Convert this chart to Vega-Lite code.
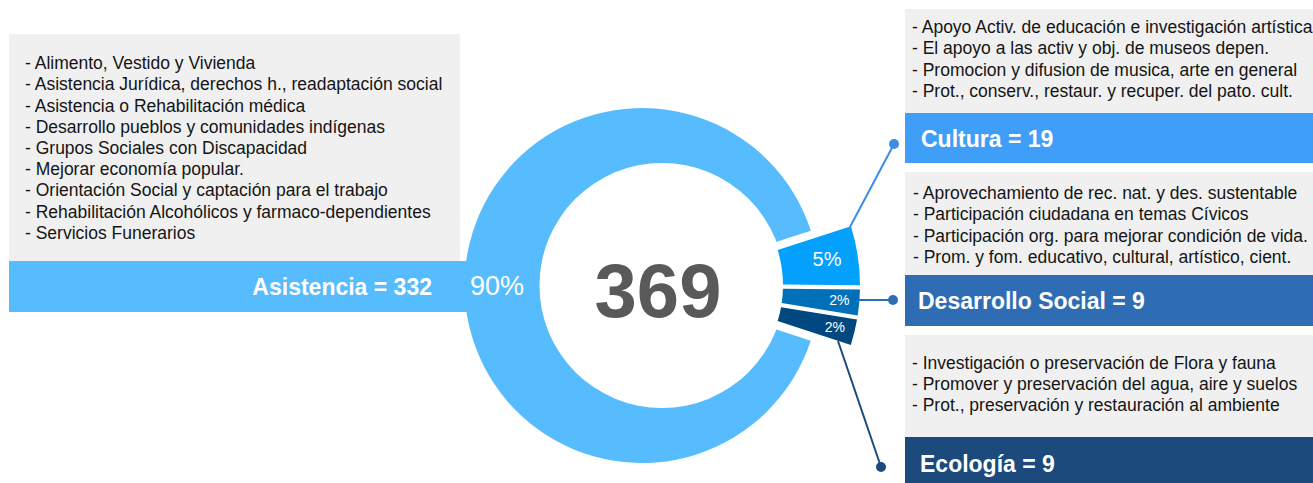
{
  "$schema": "https://vega.github.io/schema/vega-lite/v6.json",
  "width": 1313,
  "height": 483,
  "autosize": {"type": "none"},
  "padding": 0,
  "background": "white",
  "config": {"view": {"stroke": null}, "text": {"font": "Liberation Sans"}},
  "datasets": {
    "segmentos": [
      {"categoria": "Cultura", "n": 19, "pct": "5%", "orden": 1, "rotulo": "Cultura = 19",
       "descripcion": ["- Apoyo Activ. de educación e investigación artística", "- El apoyo a las activ y obj. de museos depen.", "- Promocion y difusion de musica, arte en general", "- Prot., conserv., restaur. y recuper. del pato. cult."]},
      {"categoria": "Desarrollo Social", "n": 9, "pct": "2%", "orden": 2, "rotulo": "Desarrollo Social = 9",
       "descripcion": ["- Aprovechamiento de rec. nat. y des. sustentable", "- Participación ciudadana en temas Cívicos", "- Participación org. para mejorar condición de vida.", "- Prom. y fom. educativo, cultural, artístico, cient."]},
      {"categoria": "Ecología", "n": 9, "pct": "2%", "orden": 3, "rotulo": "Ecología = 9",
       "descripcion": ["- Investigación o preservación de Flora y fauna", "- Promover y preservación del agua, aire y suelos", "- Prot., preservación y restauración al ambiente"]},
      {"categoria": "Asistencia", "n": 332, "pct": "90%", "orden": 4, "rotulo": "Asistencia = 332",
       "descripcion": ["- Alimento, Vestido y Vivienda", "- Asistencia Jurídica, derechos h., readaptación social", "- Asistencia o Rehabilitación médica", "- Desarrollo pueblos y comunidades indígenas", "- Grupos Sociales con Discapacidad", "- Mejorar economía popular.", "- Orientación Social y captación para el trabajo", "- Rehabilitación Alcohólicos y farmaco-dependientes", "- Servicios Funerarios"]}
    ]
  },
  "layer": [
    {
      "data": {"name": "segmentos"},
      "transform": [{"filter": "datum.categoria === 'Asistencia'"}],
      "mark": {"type": "rect", "fill": "#F0F0F0"},
      "encoding": {
        "x": {"datum": 9, "type": "quantitative", "scale": {"domain": [0, 1313], "nice": false, "zero": false}, "axis": null},
        "x2": {"datum": 460},
        "y": {"datum": 34, "type": "quantitative", "scale": {"domain": [0, 483], "nice": false, "zero": false, "reverse": true}, "axis": null},
        "y2": {"datum": 261}
      }
    },
    {
      "data": {"name": "segmentos"},
      "transform": [{"filter": "datum.categoria === 'Asistencia'"}],
      "mark": {"type": "rect", "fill": "#56BCFE"},
      "encoding": {
        "x": {"datum": 9, "type": "quantitative", "scale": {"domain": [0, 1313], "nice": false, "zero": false}, "axis": null},
        "x2": {"datum": 520},
        "y": {"datum": 261, "type": "quantitative", "scale": {"domain": [0, 483], "nice": false, "zero": false, "reverse": true}, "axis": null},
        "y2": {"datum": 312}
      }
    },
    {
      "data": {"name": "segmentos"},
      "transform": [{"filter": "datum.categoria === 'Cultura'"}],
      "mark": {"type": "rect", "fill": "#F0F0F0"},
      "encoding": {
        "x": {"datum": 905, "type": "quantitative", "scale": {"domain": [0, 1313], "nice": false, "zero": false}, "axis": null},
        "x2": {"datum": 1313},
        "y": {"datum": 9, "type": "quantitative", "scale": {"domain": [0, 483], "nice": false, "zero": false, "reverse": true}, "axis": null},
        "y2": {"datum": 113}
      }
    },
    {
      "data": {"name": "segmentos"},
      "transform": [{"filter": "datum.categoria === 'Cultura'"}],
      "mark": {"type": "rect", "fill": "#3F9FF8"},
      "encoding": {
        "x": {"datum": 905, "type": "quantitative", "scale": {"domain": [0, 1313], "nice": false, "zero": false}, "axis": null},
        "x2": {"datum": 1313},
        "y": {"datum": 113, "type": "quantitative", "scale": {"domain": [0, 483], "nice": false, "zero": false, "reverse": true}, "axis": null},
        "y2": {"datum": 163}
      }
    },
    {
      "data": {"name": "segmentos"},
      "transform": [{"filter": "datum.categoria === 'Desarrollo Social'"}],
      "mark": {"type": "rect", "fill": "#F0F0F0"},
      "encoding": {
        "x": {"datum": 905, "type": "quantitative", "scale": {"domain": [0, 1313], "nice": false, "zero": false}, "axis": null},
        "x2": {"datum": 1313},
        "y": {"datum": 172, "type": "quantitative", "scale": {"domain": [0, 483], "nice": false, "zero": false, "reverse": true}, "axis": null},
        "y2": {"datum": 275}
      }
    },
    {
      "data": {"name": "segmentos"},
      "transform": [{"filter": "datum.categoria === 'Desarrollo Social'"}],
      "mark": {"type": "rect", "fill": "#2E6DB4"},
      "encoding": {
        "x": {"datum": 905, "type": "quantitative", "scale": {"domain": [0, 1313], "nice": false, "zero": false}, "axis": null},
        "x2": {"datum": 1313},
        "y": {"datum": 275, "type": "quantitative", "scale": {"domain": [0, 483], "nice": false, "zero": false, "reverse": true}, "axis": null},
        "y2": {"datum": 326}
      }
    },
    {
      "data": {"name": "segmentos"},
      "transform": [{"filter": "datum.categoria === 'Ecología'"}],
      "mark": {"type": "rect", "fill": "#F0F0F0"},
      "encoding": {
        "x": {"datum": 905, "type": "quantitative", "scale": {"domain": [0, 1313], "nice": false, "zero": false}, "axis": null},
        "x2": {"datum": 1313},
        "y": {"datum": 335, "type": "quantitative", "scale": {"domain": [0, 483], "nice": false, "zero": false, "reverse": true}, "axis": null},
        "y2": {"datum": 437}
      }
    },
    {
      "data": {"name": "segmentos"},
      "transform": [{"filter": "datum.categoria === 'Ecología'"}],
      "mark": {"type": "rect", "fill": "#1C4A7D"},
      "encoding": {
        "x": {"datum": 905, "type": "quantitative", "scale": {"domain": [0, 1313], "nice": false, "zero": false}, "axis": null},
        "x2": {"datum": 1313},
        "y": {"datum": 437, "type": "quantitative", "scale": {"domain": [0, 483], "nice": false, "zero": false, "reverse": true}, "axis": null},
        "y2": {"datum": 483}
      }
    },
    {
      "data": {"name": "segmentos"},
      "mark": {"type": "arc", "outerRadius": 177.5, "innerRadius": 0},
      "encoding": {
        "x": {"datum": 642, "type": "quantitative", "scale": {"domain": [0, 1313], "nice": false, "zero": false}, "axis": null},
        "y": {"datum": 285.5, "type": "quantitative", "scale": {"domain": [0, 483], "nice": false, "zero": false, "reverse": true}, "axis": null},
        "theta": {"field": "n", "type": "quantitative", "stack": true, "scale": {"range": [1.2566, 7.5398]}},
        "order": {"field": "orden", "type": "quantitative"},
        "color": {"field": "categoria", "type": "nominal", "scale": {"domain": ["Asistencia", "Cultura", "Desarrollo Social", "Ecología"], "range": ["#56BCFE", "#04A0FE", "#0071B9", "#00487F"]}, "legend": null},
        "opacity": {"condition": {"test": "datum.categoria === 'Asistencia'", "value": 1}, "value": 0}
      }
    },
    {
      "data": {"name": "segmentos"},
      "transform": [{"aggregate": [{"op": "sum", "field": "n", "as": "total"}]}],
      "mark": {"type": "arc", "theta": 0, "theta2": 6.2832, "outerRadius": 122.5, "innerRadius": 0, "fill": "white"},
      "encoding": {
        "x": {"datum": 662, "type": "quantitative", "scale": {"domain": [0, 1313], "nice": false, "zero": false}, "axis": null},
        "y": {"datum": 285.5, "type": "quantitative", "scale": {"domain": [0, 483], "nice": false, "zero": false, "reverse": true}, "axis": null}
      }
    },
    {
      "data": {"name": "segmentos"},
      "mark": {"type": "arc", "outerRadius": 198, "innerRadius": 121, "padAngle": 0.018},
      "encoding": {
        "x": {"datum": 662, "type": "quantitative", "scale": {"domain": [0, 1313], "nice": false, "zero": false}, "axis": null},
        "y": {"datum": 285.5, "type": "quantitative", "scale": {"domain": [0, 483], "nice": false, "zero": false, "reverse": true}, "axis": null},
        "theta": {"field": "n", "type": "quantitative", "stack": true, "scale": {"range": [1.2566, 7.5398]}},
        "order": {"field": "orden", "type": "quantitative"},
        "color": {"field": "categoria", "type": "nominal", "scale": {"domain": ["Asistencia", "Cultura", "Desarrollo Social", "Ecología"], "range": ["#56BCFE", "#04A0FE", "#0071B9", "#00487F"]}, "legend": null},
        "opacity": {"condition": {"test": "datum.categoria === 'Asistencia'", "value": 0}, "value": 1}
      }
    },
    {
      "data": {"name": "segmentos"},
      "mark": {"type": "rule", "stroke": "#3B8DE6", "strokeWidth": 2},
      "transform": [{"filter": "datum.categoria === 'Cultura'"}],
      "encoding": {
        "x": {"datum": 850, "type": "quantitative", "scale": {"domain": [0, 1313], "nice": false, "zero": false}, "axis": null},
        "x2": {"datum": 894},
        "y": {"datum": 227, "type": "quantitative", "scale": {"domain": [0, 483], "nice": false, "zero": false, "reverse": true}, "axis": null},
        "y2": {"datum": 144}
      }
    },
    {
      "data": {"name": "segmentos"},
      "mark": {"type": "rule", "stroke": "#2E6DB4", "strokeWidth": 2},
      "transform": [{"filter": "datum.categoria === 'Desarrollo Social'"}],
      "encoding": {
        "x": {"datum": 859, "type": "quantitative", "scale": {"domain": [0, 1313], "nice": false, "zero": false}, "axis": null},
        "x2": {"datum": 893},
        "y": {"datum": 300, "type": "quantitative", "scale": {"domain": [0, 483], "nice": false, "zero": false, "reverse": true}, "axis": null},
        "y2": {"datum": 300}
      }
    },
    {
      "data": {"name": "segmentos"},
      "mark": {"type": "rule", "stroke": "#1D4A7C", "strokeWidth": 2},
      "transform": [{"filter": "datum.categoria === 'Ecología'"}],
      "encoding": {
        "x": {"datum": 838, "type": "quantitative", "scale": {"domain": [0, 1313], "nice": false, "zero": false}, "axis": null},
        "x2": {"datum": 881},
        "y": {"datum": 341, "type": "quantitative", "scale": {"domain": [0, 483], "nice": false, "zero": false, "reverse": true}, "axis": null},
        "y2": {"datum": 467}
      }
    },
    {
      "data": {"name": "segmentos"},
      "mark": {"type": "point", "filled": true, "size": 100, "fill": "#3B8DE6", "opacity": 1, "strokeWidth": 0},
      "transform": [{"filter": "datum.categoria === 'Cultura'"}],
      "encoding": {
        "x": {"datum": 894, "type": "quantitative", "scale": {"domain": [0, 1313], "nice": false, "zero": false}, "axis": null},
        "y": {"datum": 144, "type": "quantitative", "scale": {"domain": [0, 483], "nice": false, "zero": false, "reverse": true}, "axis": null}
      }
    },
    {
      "data": {"name": "segmentos"},
      "mark": {"type": "point", "filled": true, "size": 100, "fill": "#2E6DB4", "opacity": 1, "strokeWidth": 0},
      "transform": [{"filter": "datum.categoria === 'Desarrollo Social'"}],
      "encoding": {
        "x": {"datum": 893, "type": "quantitative", "scale": {"domain": [0, 1313], "nice": false, "zero": false}, "axis": null},
        "y": {"datum": 300, "type": "quantitative", "scale": {"domain": [0, 483], "nice": false, "zero": false, "reverse": true}, "axis": null}
      }
    },
    {
      "data": {"name": "segmentos"},
      "mark": {"type": "point", "filled": true, "size": 100, "fill": "#1D4A7C", "opacity": 1, "strokeWidth": 0},
      "transform": [{"filter": "datum.categoria === 'Ecología'"}],
      "encoding": {
        "x": {"datum": 881, "type": "quantitative", "scale": {"domain": [0, 1313], "nice": false, "zero": false}, "axis": null},
        "y": {"datum": 467, "type": "quantitative", "scale": {"domain": [0, 483], "nice": false, "zero": false, "reverse": true}, "axis": null}
      }
    },
    {
      "data": {"name": "segmentos"},
      "mark": {"type": "text", "radius": 145, "fontSize": 27, "fill": "white", "align": "center", "baseline": "middle", "dy": 2},
      "encoding": {
        "x": {"datum": 642, "type": "quantitative", "scale": {"domain": [0, 1313], "nice": false, "zero": false}, "axis": null},
        "y": {"datum": 285.5, "type": "quantitative", "scale": {"domain": [0, 483], "nice": false, "zero": false, "reverse": true}, "axis": null},
        "theta": {"field": "n", "type": "quantitative", "stack": true, "scale": {"range": [1.2566, 7.5398]}},
        "order": {"field": "orden", "type": "quantitative"},
        "detail": {"field": "categoria", "type": "nominal"},
        "text": {"field": "pct", "type": "nominal"},
        "opacity": {"condition": {"test": "datum.categoria === 'Asistencia'", "value": 1}, "value": 0}
      }
    },
    {
      "data": {"name": "segmentos"},
      "mark": {"type": "text", "radius": 167, "fontSize": 20, "fill": "white", "align": "center", "baseline": "middle"},
      "encoding": {
        "x": {"datum": 662, "type": "quantitative", "scale": {"domain": [0, 1313], "nice": false, "zero": false}, "axis": null},
        "y": {"datum": 285.5, "type": "quantitative", "scale": {"domain": [0, 483], "nice": false, "zero": false, "reverse": true}, "axis": null},
        "theta": {"field": "n", "type": "quantitative", "stack": true, "scale": {"range": [1.2566, 7.5398]}},
        "order": {"field": "orden", "type": "quantitative"},
        "detail": {"field": "categoria", "type": "nominal"},
        "text": {"field": "pct", "type": "nominal"},
        "opacity": {"condition": {"test": "datum.categoria === 'Cultura'", "value": 1}, "value": 0}
      }
    },
    {
      "data": {"name": "segmentos"},
      "mark": {"type": "text", "radius": 178, "fontSize": 14, "fill": "white", "align": "center", "baseline": "middle"},
      "encoding": {
        "x": {"datum": 662, "type": "quantitative", "scale": {"domain": [0, 1313], "nice": false, "zero": false}, "axis": null},
        "y": {"datum": 285.5, "type": "quantitative", "scale": {"domain": [0, 483], "nice": false, "zero": false, "reverse": true}, "axis": null},
        "theta": {"field": "n", "type": "quantitative", "stack": true, "scale": {"range": [1.2566, 7.5398]}},
        "order": {"field": "orden", "type": "quantitative"},
        "detail": {"field": "categoria", "type": "nominal"},
        "text": {"field": "pct", "type": "nominal"},
        "opacity": {"condition": {"test": "datum.orden === 2 || datum.orden === 3", "value": 1}, "value": 0}
      }
    },
    {
      "data": {"name": "segmentos"},
      "mark": {"type": "text", "fontSize": 76, "fontWeight": "bold", "fill": "#595959", "align": "center", "baseline": "alphabetic"},
      "encoding": {
        "x": {"datum": 658, "type": "quantitative", "scale": {"domain": [0, 1313], "nice": false, "zero": false}, "axis": null},
        "y": {"datum": 317, "type": "quantitative", "scale": {"domain": [0, 483], "nice": false, "zero": false, "reverse": true}, "axis": null},
        "text": {"aggregate": "sum", "field": "n", "type": "quantitative"}
      }
    },
    {
      "data": {"name": "segmentos"},
      "transform": [{"filter": "datum.categoria === 'Asistencia'"}],
      "mark": {"type": "text", "fontSize": 17.5, "lineHeight": 21.2, "fill": "#141414", "align": "left", "baseline": "alphabetic"},
      "encoding": {
        "x": {"datum": 25, "type": "quantitative", "scale": {"domain": [0, 1313], "nice": false, "zero": false}, "axis": null},
        "y": {"datum": 69.3, "type": "quantitative", "scale": {"domain": [0, 483], "nice": false, "zero": false, "reverse": true}, "axis": null},
        "text": {"field": "descripcion", "type": "nominal"}
      }
    },
    {
      "data": {"name": "segmentos"},
      "transform": [{"filter": "datum.categoria === 'Cultura'"}],
      "mark": {"type": "text", "fontSize": 17.5, "lineHeight": 21.2, "fill": "#141414", "align": "left", "baseline": "alphabetic"},
      "encoding": {
        "x": {"datum": 912, "type": "quantitative", "scale": {"domain": [0, 1313], "nice": false, "zero": false}, "axis": null},
        "y": {"datum": 33.3, "type": "quantitative", "scale": {"domain": [0, 483], "nice": false, "zero": false, "reverse": true}, "axis": null},
        "text": {"field": "descripcion", "type": "nominal"}
      }
    },
    {
      "data": {"name": "segmentos"},
      "transform": [{"filter": "datum.categoria === 'Desarrollo Social'"}],
      "mark": {"type": "text", "fontSize": 17.5, "lineHeight": 21.2, "fill": "#141414", "align": "left", "baseline": "alphabetic"},
      "encoding": {
        "x": {"datum": 913, "type": "quantitative", "scale": {"domain": [0, 1313], "nice": false, "zero": false}, "axis": null},
        "y": {"datum": 199.3, "type": "quantitative", "scale": {"domain": [0, 483], "nice": false, "zero": false, "reverse": true}, "axis": null},
        "text": {"field": "descripcion", "type": "nominal"}
      }
    },
    {
      "data": {"name": "segmentos"},
      "transform": [{"filter": "datum.categoria === 'Ecología'"}],
      "mark": {"type": "text", "fontSize": 17.5, "lineHeight": 21.2, "fill": "#141414", "align": "left", "baseline": "alphabetic"},
      "encoding": {
        "x": {"datum": 912, "type": "quantitative", "scale": {"domain": [0, 1313], "nice": false, "zero": false}, "axis": null},
        "y": {"datum": 369, "type": "quantitative", "scale": {"domain": [0, 483], "nice": false, "zero": false, "reverse": true}, "axis": null},
        "text": {"field": "descripcion", "type": "nominal"}
      }
    },
    {
      "data": {"name": "segmentos"},
      "transform": [{"filter": "datum.categoria === 'Asistencia'"}],
      "mark": {"type": "text", "fontSize": 23, "fontWeight": "bold", "fill": "white", "align": "right", "baseline": "alphabetic"},
      "encoding": {
        "x": {"datum": 432, "type": "quantitative", "scale": {"domain": [0, 1313], "nice": false, "zero": false}, "axis": null},
        "y": {"datum": 295, "type": "quantitative", "scale": {"domain": [0, 483], "nice": false, "zero": false, "reverse": true}, "axis": null},
        "text": {"field": "rotulo", "type": "nominal"}
      }
    },
    {
      "data": {"name": "segmentos"},
      "transform": [{"filter": "datum.categoria === 'Cultura'"}],
      "mark": {"type": "text", "fontSize": 23, "fontWeight": "bold", "fill": "white", "align": "left", "baseline": "alphabetic"},
      "encoding": {
        "x": {"datum": 921, "type": "quantitative", "scale": {"domain": [0, 1313], "nice": false, "zero": false}, "axis": null},
        "y": {"datum": 146.7, "type": "quantitative", "scale": {"domain": [0, 483], "nice": false, "zero": false, "reverse": true}, "axis": null},
        "text": {"field": "rotulo", "type": "nominal"}
      }
    },
    {
      "data": {"name": "segmentos"},
      "transform": [{"filter": "datum.categoria === 'Desarrollo Social'"}],
      "mark": {"type": "text", "fontSize": 23, "fontWeight": "bold", "fill": "white", "align": "left", "baseline": "alphabetic"},
      "encoding": {
        "x": {"datum": 918, "type": "quantitative", "scale": {"domain": [0, 1313], "nice": false, "zero": false}, "axis": null},
        "y": {"datum": 309.3, "type": "quantitative", "scale": {"domain": [0, 483], "nice": false, "zero": false, "reverse": true}, "axis": null},
        "text": {"field": "rotulo", "type": "nominal"}
      }
    },
    {
      "data": {"name": "segmentos"},
      "transform": [{"filter": "datum.categoria === 'Ecología'"}],
      "mark": {"type": "text", "fontSize": 23, "fontWeight": "bold", "fill": "white", "align": "left", "baseline": "alphabetic"},
      "encoding": {
        "x": {"datum": 920, "type": "quantitative", "scale": {"domain": [0, 1313], "nice": false, "zero": false}, "axis": null},
        "y": {"datum": 471.7, "type": "quantitative", "scale": {"domain": [0, 483], "nice": false, "zero": false, "reverse": true}, "axis": null},
        "text": {"field": "rotulo", "type": "nominal"}
      }
    }
  ]
}
